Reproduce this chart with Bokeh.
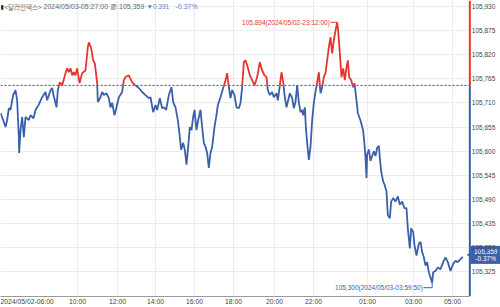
import math
from bokeh.plotting import figure
from bokeh.models import (Range1d, FixedTicker, CustomJSTickFormatter, Label,
                          ColumnDataSource, Grid)
from bokeh.core.properties import value
from bokeh.core.enums import CoordinateUnits
from bokeh.embed import file_html
from bokeh.resources import INLINE

# ---------------- data ----------------
bar_idx = [
    0, 8, 15, 20, 25, 30, 38, 45, 50, 55, 56, 60, 65, 70, 75, 85, 90, 99, 105, 114,
    125, 135, 140, 150, 155, 159, 168, 172, 178, 185, 195, 200, 205, 210, 215, 220, 225, 230, 237, 245,
    255, 262, 265, 272, 278, 283, 290, 292, 300, 305, 310, 318, 325, 330, 335, 342, 348, 355, 365,
    370, 375, 385, 395, 405, 415, 425, 435, 445, 450, 458, 465, 470, 478, 485, 490, 497, 505, 513, 518,
    525, 532, 538, 542, 548, 553, 558, 563, 568, 573, 578, 582, 588, 593, 600, 605, 610, 615, 620, 625,
    630, 635, 642, 647, 652, 660, 668, 675, 680, 683, 690, 695, 702, 708, 715, 720, 725,
    730, 735, 742, 748, 755, 762, 770, 778, 785, 792, 798, 802, 808, 815, 820, 828, 832, 838, 843, 848,
    853, 858, 863, 868, 875, 880, 885, 890, 895, 900, 905, 908, 913, 916, 920, 925, 930, 935, 940, 945,
    950, 955, 960, 965, 970, 975, 980, 985, 990, 995, 1000, 1005, 1010, 1013, 1018, 1023, 1028, 1033, 1038, 1042,
    1046, 1052, 1058, 1062, 1068, 1072,
    1080, 1088, 1092, 1095, 1098, 1100, 1105, 1110, 1115, 1120, 1125, 1130, 1135, 1138, 1142, 1148, 1152, 1158, 1162, 1168,
    1172, 1178, 1185, 1192, 1198, 1205, 1212, 1218, 1222, 1228, 1232, 1238, 1242, 1248, 1255, 1260, 1265, 1270, 1275, 1280,
    1285, 1290, 1295, 1298, 1305, 1312, 1320, 1328, 1335, 1342, 1350, 1358, 1365, 1372, 1380, 1387,
]
price = [
    105.687, 105.671, 105.655, 105.671, 105.698, 105.694, 105.728, 105.739, 105.716, 105.632,
    105.596, 105.648, 105.678, 105.632, 105.678, 105.671, 105.682, 105.675, 105.694, 105.705,
    105.723, 105.735, 105.716, 105.739, 105.744, 105.728, 105.700, 105.739, 105.757, 105.750,
    105.778, 105.789, 105.780, 105.789, 105.773, 105.780, 105.773, 105.789, 105.755, 105.778,
    105.784, 105.837, 105.848, 105.835, 105.807, 105.800, 105.755, 105.712, 105.723, 105.735,
    105.728, 105.732, 105.721, 105.700, 105.710, 105.682, 105.700, 105.723, 105.735,
    105.762, 105.769, 105.773, 105.757, 105.750, 105.744, 105.735, 105.728, 105.721, 105.723,
    105.689, 105.705, 105.694, 105.721, 105.698, 105.700, 105.694, 105.728, 105.746, 105.712,
    105.700, 105.671, 105.632, 105.603, 105.619, 105.603, 105.569, 105.610, 105.655, 105.648,
    105.678, 105.694, 105.648, 105.671, 105.694, 105.655, 105.619, 105.610, 105.596, 105.562,
    105.596, 105.610, 105.655, 105.678, 105.705, 105.723, 105.744, 105.762, 105.778, 105.757,
    105.721, 105.739, 105.728, 105.700, 105.698, 105.710, 105.746,
    105.803, 105.807, 105.791, 105.773, 105.762, 105.750, 105.769, 105.803, 105.784, 105.773,
    105.769, 105.739, 105.728, 105.735, 105.723, 105.732, 105.716, 105.750, 105.780, 105.757,
    105.723, 105.700, 105.716, 105.732, 105.721, 105.698, 105.712, 105.750, 105.712, 105.689,
    105.694, 105.682, 105.700, 105.655, 105.619, 105.580, 105.610, 105.671, 105.710, 105.735,
    105.757, 105.780, 105.732, 105.746, 105.769, 105.778, 105.807, 105.837, 105.860, 105.823,
    105.853, 105.875, 105.894, 105.875, 105.823, 105.769, 105.789, 105.762, 105.791, 105.807,
    105.769, 105.762, 105.746, 105.755, 105.716, 105.687,
    105.670, 105.647, 105.616, 105.585, 105.539, 105.593, 105.604, 105.578, 105.589, 105.600,
    105.589, 105.608, 105.612, 105.585, 105.554, 105.531, 105.524, 105.508, 105.454, 105.447,
    105.485, 105.493, 105.485, 105.497, 105.478, 105.485, 105.470, 105.470, 105.424, 105.378,
    105.424, 105.416, 105.385, 105.362, 105.389, 105.393, 105.370, 105.358, 105.339, 105.347,
    105.324, 105.312, 105.300, 105.324, 105.327, 105.335, 105.331, 105.347, 105.358, 105.347,
    105.327, 105.343, 105.350, 105.347, 105.354, 105.359,
]
prev_close = 105.750
instrument = "<달러인덱스>"
last_time = "2024/05/03-05:27:00"
peak_time = "2024/05/02-23:12:00"
trough_time = "2024/05/03-03:59:50"

x_tick_idx = [0, 231, 351, 465, 582, 699, 822, 939, 1101, 1239, 1356]
x_tick_labels = ["2024/05/02-06:00", "10:00", "12:00", "14:00", "16:00", "18:00",
                 "20:00", "22:00", "01:00", "03:00", "05:00"]
y_ticks = [105.325, 105.380, 105.435, 105.490, 105.545, 105.600, 105.655,
           105.710, 105.765, 105.820, 105.875, 105.930]

# ---------------- styling ----------------
RED = "#e5362c"
BLUE = "#3a60ab"
LBLUE = "#5b7fcb"
FONT = "Liberation Sans"
KFONT = "Noto Sans CJK KR"

Y0, Y1 = 105.2686, 105.9436
X0, X1 = 0, 1500          # 3 bar units per pixel over the 500 px canvas
AXIS_X = 1408             # where the price axis sits
CANVAS = "canvas" in CoordinateUnits
UNITS = "canvas" if CANVAS else "screen"
FRAME_H = 297
PX_Y = (Y1 - Y0) / FRAME_H   # value per pixel, for pixel nudges of annotations


def cy(y_top):
    return y_top if CANVAS else FRAME_H - y_top


def fmt(v):
    return f"{v:.3f}".replace(".", ",")


p = figure(width=500, height=307, output_backend="svg", toolbar_location=None,
           x_range=Range1d(X0, X1), y_range=Range1d(Y0, Y1),
           y_axis_location="right",
           min_border_left=0, min_border_top=0, min_border_right=0, min_border_bottom=10)
p.outline_line_color = None
p.background_fill_color = "white"
p.border_fill_color = "white"

# grids
p.xgrid.ticker = FixedTicker(ticks=x_tick_idx)
p.ygrid.ticker = FixedTicker(ticks=y_ticks)
p.grid.grid_line_color = "#ececec"
p.grid.grid_line_width = 1
if "cross_bounds" in Grid.properties():
    p.ygrid.cross_bounds = (X0, AXIS_X)

# x axis
xa = p.xaxis[0]
xa.ticker = FixedTicker(ticks=x_tick_idx)
xa.major_label_overrides = {t: l for t, l in zip(x_tick_idx, x_tick_labels)}
xa.major_label_text_align = "left"
xa.major_label_text_font = FONT
xa.major_label_text_font_size = "6.8px"
xa.major_label_text_color = "#444444"
xa.major_label_standoff = 1
xa.major_tick_in = 0
xa.major_tick_out = 0
xa.minor_tick_out = 0
xa.minor_tick_in = 0
xa.axis_line_color = "#9a9a9a"
xa.bounds = (X0, AXIS_X)

# y axis (right, pinned at the axis position so the frame spans the canvas)
ya = p.yaxis[0]
ya.fixed_location = AXIS_X
ya.ticker = FixedTicker(ticks=y_ticks)
ya.formatter = CustomJSTickFormatter(code="return tick.toFixed(3).replace('.', ',');")
ya.major_label_text_font = FONT
ya.major_label_text_font_size = "6.5px"
ya.major_label_text_color = "#444444"
ya.major_label_standoff = 2
ya.major_tick_in = 0
ya.major_tick_out = 0
ya.minor_tick_in = 0
ya.minor_tick_out = 0
ya.axis_line_color = None

# previous close dashed line (up to the price axis)
p.segment(x0=[X0], x1=[AXIS_X], y0=[prev_close], y1=[prev_close],
          line_color="#444444", line_dash="2 2", line_width=1)

# split the series into red (above prev close) and blue (below) runs
xs_runs, ys_runs, cols = [], [], []
cur = price[0] >= prev_close
rx, ry = [bar_idx[0]], [price[0]]
for i in range(1, len(price)):
    side = price[i] >= prev_close
    if side == cur:
        rx.append(bar_idx[i]); ry.append(price[i])
    else:
        xa0, ya0, xb, yb = bar_idx[i - 1], price[i - 1], bar_idx[i], price[i]
        xc = xa0 + (prev_close - ya0) / (yb - ya0) * (xb - xa0)
        rx.append(xc); ry.append(prev_close)
        xs_runs.append(rx); ys_runs.append(ry); cols.append(RED if cur else BLUE)
        rx, ry = [xc, xb], [prev_close, yb]
        cur = side
xs_runs.append(rx); ys_runs.append(ry); cols.append(RED if cur else BLUE)

src = ColumnDataSource(dict(xs=xs_runs, ys=ys_runs, c=cols))
p.multi_line(xs="xs", ys="ys", line_color="c", line_width=1.8, source=src)

# coloured price-axis line
p.segment(x0=[AXIS_X, AXIS_X], x1=[AXIS_X, AXIS_X], y0=[prev_close, Y0], y1=[Y1, prev_close],
          line_color=[RED, BLUE], line_width=2)

# peak / trough annotations
ip = max(range(len(price)), key=lambda k: price[k])
it = min(range(len(price)), key=lambda k: price[k])
px_, pv = bar_idx[ip], price[ip]
tx_, tv = bar_idx[it], price[it]
p.segment(x0=[px_ - 20], x1=[px_], y0=[pv], y1=[pv], line_color=RED, line_width=1)
p.add_layout(Label(x=px_ - 22, y=pv, text=f"{fmt(pv)}({peak_time})", text_align="right",
                   text_baseline="middle", text_font=FONT, text_font_size="6.5px",
                   text_color=RED))
t_lab_y = tv - 5 * PX_Y
p.segment(x0=[tx_ - 26, tx_], x1=[tx_, tx_], y0=[t_lab_y, t_lab_y], y1=[t_lab_y, tv],
          line_color=BLUE, line_width=1)
p.add_layout(Label(x=tx_ - 28, y=t_lab_y, text=f"{fmt(tv)}({trough_time})", text_align="right",
                   text_baseline="middle", text_font=FONT, text_font_size="6.5px",
                   text_color=BLUE))

# title line
last = price[-1]
chg = last - prev_close
pct = chg / prev_close * 100
TY = cy(6)
p.add_layout(Label(x=0, y=TY, x_units=UNITS, y_units=UNITS, text="▮",
                   text_baseline="middle", text_font="DejaVu Sans", text_font_size="6px",
                   text_color="#222222"))
p.add_layout(Label(x=4, y=TY, x_units=UNITS, y_units=UNITS, text=instrument,
                   text_baseline="middle", text_font=KFONT, text_font_size="6.5px",
                   text_color="#666666"))
p.add_layout(Label(x=43, y=TY, x_units=UNITS, y_units=UNITS,
                   text=f"{last_time} 종:{fmt(last)}",
                   text_baseline="middle", text_font=FONT, text_font_size="7px",
                   text_color="#666666"))
p.add_layout(Label(x=146, y=TY, x_units=UNITS, y_units=UNITS,
                   text=f"{'▼' if chg < 0 else '▲'}{abs(chg):.3f}",
                   text_baseline="middle", text_font=FONT, text_font_size="6.5px",
                   text_color=LBLUE))
p.add_layout(Label(x=175, y=TY, x_units=UNITS, y_units=UNITS,
                   text=f"{pct:.2f}%",
                   text_baseline="middle", text_font=FONT, text_font_size="7px",
                   text_color=LBLUE))

# last price box on the price axis
box_x = (AXIS_X + X1 + 3) / 2
p.rect(x=[box_x], y=[last + 2 * PX_Y], width=[X1 - AXIS_X - 3], height=[17],
       height_units="screen", fill_color=BLUE, line_color=BLUE)
p.scatter(x=[AXIS_X + 3], y=[last + 2 * PX_Y], marker="triangle", size=6, angle=math.pi / 2,
          fill_color=BLUE, line_color=BLUE)
p.text(x=[box_x], y=[last], text=[fmt(last)], text_align="center", text_baseline="middle",
       y_offset=-5.5, text_font=value(FONT), text_font_size="6.5px", text_color="white")
p.text(x=[box_x], y=[last], text=[f"{pct:.2f}%"], text_align="center", text_baseline="middle",
       y_offset=1.5, text_font=value(FONT), text_font_size="6.5px", text_color="white")

open("out.html", "w").write(file_html(p, INLINE))
